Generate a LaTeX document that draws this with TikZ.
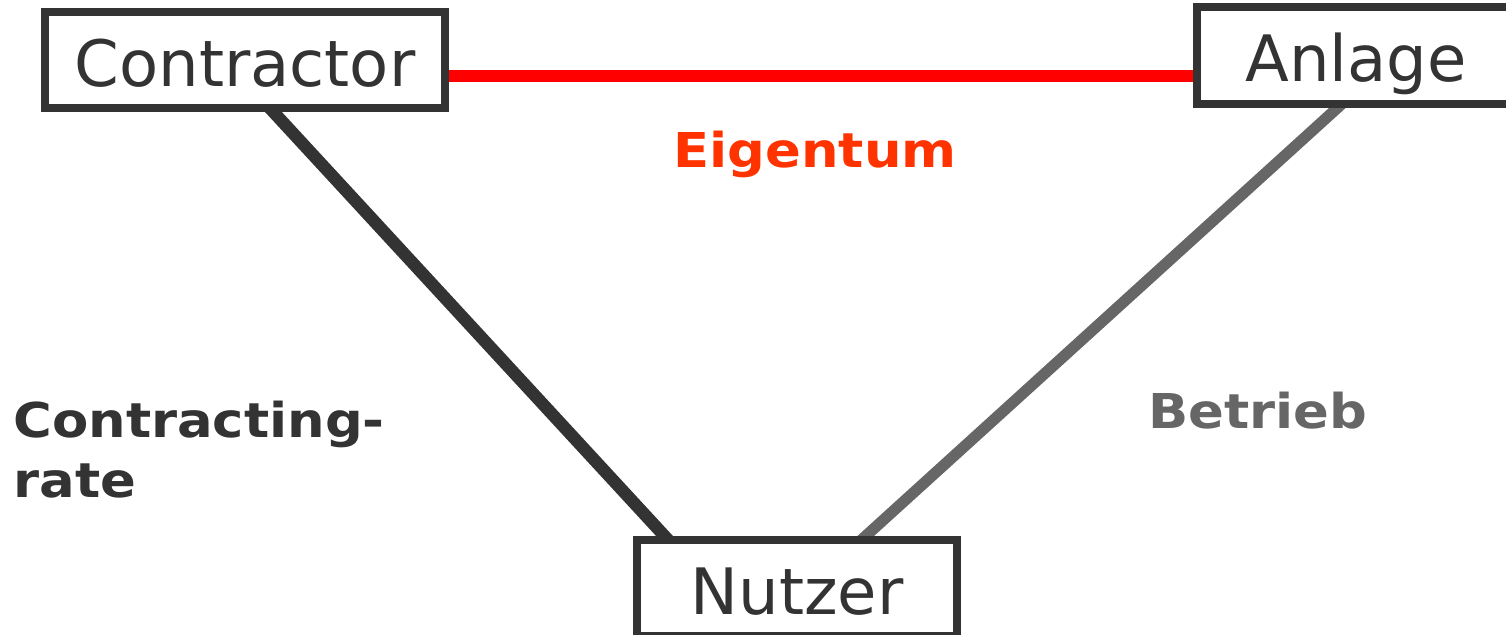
\documentclass[tikz,border=0pt]{standalone}
\usepackage{fontspec}
\setmainfont{DejaVu Sans}
\newfontfamily\lblfont[FakeStretch=1.1]{DejaVu Sans}
\usetikzlibrary{calc,backgrounds}
\definecolor{ink}{RGB}{51,51,51}
\definecolor{mid}{RGB}{102,102,102}
\definecolor{own}{RGB}{255,51,0}
\definecolor{tie}{RGB}{255,0,0}
\tikzset{
  party/.style={draw=ink,line width=4pt,fill=white,inner sep=2pt,text=ink,
    font=\fontsize{32}{38}\selectfont,text height=26pt,text depth=0pt},
  tag/.style={font=\lblfont\bfseries\fontsize{24}{30}\selectfont,inner sep=0pt},
  link/.style={line width=6.2pt},
}

\begin{document}
\begin{tikzpicture}[x=0.5pt,y=-0.5pt]
\useasboundingbox (0,0) rectangle (1506,634);
% the three parties
\node[party,minimum width=200pt,minimum height=48pt] (contractor) at (245,60) {Contractor};
\node[party,minimum width=159pt,minimum height=48.5pt] (anlage) at (1356,55.5) {Anlage};
\node[party,minimum width=160pt,minimum height=48pt] (nutzer) at (797,588) {Nutzer};
% relations
\begin{scope}[on background layer]
\draw[link,tie,line width=5.8pt] ($(contractor.east)+(-9,16)$) -- ($(anlage.west)+(9,20.5)$);
\draw[link,ink] ($(contractor.south)+(22,-7)$) -- ($(nutzer.north)+(-126,7)$);
\draw[link,mid,line width=5.6pt] ($(anlage.south)+(-11,-7)$) -- ($(nutzer.north)+(61,7)$);
\end{scope}
\node[tag,text=own,anchor=base] (eigentum) at (815,167) {Eigentum};
\node[tag,text=ink,anchor=north west,align=left] (rate) at (13,401) {Contracting-\\rate};
\node[tag,text=mid,anchor=base] (betrieb) at (1258,428) {Betrieb};
\end{tikzpicture}
\end{document}
